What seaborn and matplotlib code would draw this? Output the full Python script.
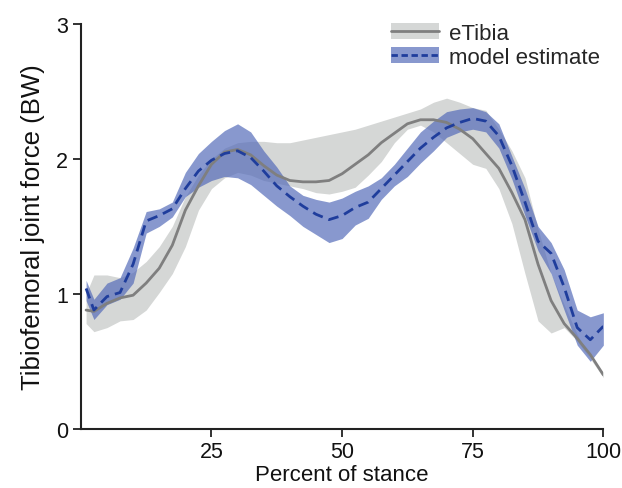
import pandas as pd
import seaborn as sns
import matplotlib
matplotlib.use('Agg')
import matplotlib.pyplot as plt
from matplotlib.patches import Patch
from matplotlib.lines import Line2D

# percent of stance
pct = [1, 2.5, 5, 7.5, 10, 12.5, 15, 17.5, 20, 22.5, 25, 27.5, 30, 32.5, 35, 37.5,
       40, 42.5, 45, 47.5, 50, 52.5, 55, 57.5, 60, 62.5, 65, 67.5, 70, 72.5, 75,
       77.5, 80, 82.5, 85, 87.5, 90, 92.5, 95, 97.5, 100]

# eTibia measured force (BW)
etibia_mean = [0.88, 0.87, 0.93, 0.97, 0.99, 1.08, 1.19, 1.36, 1.62, 1.80, 1.96, 2.05,
               2.07, 2.03, 1.95, 1.88, 1.84, 1.83, 1.83, 1.84, 1.89, 1.96, 2.03, 2.12,
               2.19, 2.26, 2.29, 2.29, 2.27, 2.22, 2.15, 2.04, 1.93, 1.75, 1.55, 1.22,
               0.95, 0.78, 0.67, 0.55, 0.40]
etibia_hi = [1.00, 1.14, 1.14, 1.12, 1.16, 1.24, 1.35, 1.50, 1.72, 1.88, 2.00, 2.08,
             2.12, 2.13, 2.13, 2.12, 2.12, 2.14, 2.16, 2.18, 2.20, 2.22, 2.25, 2.28,
             2.31, 2.34, 2.37, 2.42, 2.45, 2.42, 2.38, 2.36, 2.22, 2.06, 1.86, 1.48,
             1.15, 0.92, 0.70, 0.52, 0.42]
etibia_lo = [0.78, 0.72, 0.75, 0.80, 0.81, 0.88, 1.01, 1.15, 1.35, 1.62, 1.78, 1.86,
             1.90, 1.88, 1.84, 1.82, 1.80, 1.78, 1.75, 1.74, 1.76, 1.79, 1.88, 1.98,
             2.12, 2.22, 2.25, 2.20, 2.12, 2.04, 1.96, 1.93, 1.78, 1.52, 1.15, 0.80,
             0.71, 0.75, 0.65, 0.52, 0.38]

# model estimate (BW)
model_mean = [1.04, 0.88, 0.98, 1.01, 1.22, 1.54, 1.58, 1.63, 1.78, 1.91, 1.99, 2.04,
              2.06, 2.01, 1.91, 1.80, 1.72, 1.65, 1.59, 1.55, 1.58, 1.64, 1.68, 1.78,
              1.88, 1.98, 2.08, 2.16, 2.23, 2.27, 2.30, 2.28, 2.17, 1.95, 1.68, 1.39,
              1.30, 1.05, 0.75, 0.66, 0.76]
model_hi = [1.10, 0.96, 1.08, 1.12, 1.34, 1.61, 1.63, 1.68, 1.90, 2.04, 2.13, 2.21,
            2.26, 2.20, 2.06, 1.94, 1.80, 1.73, 1.70, 1.68, 1.71, 1.76, 1.80, 1.86,
            1.96, 2.08, 2.20, 2.28, 2.35, 2.37, 2.38, 2.35, 2.26, 2.02, 1.78, 1.50,
            1.38, 1.18, 0.88, 0.83, 0.86]
model_lo = [0.95, 0.81, 0.92, 0.96, 1.08, 1.45, 1.50, 1.57, 1.72, 1.79, 1.84, 1.87,
            1.86, 1.81, 1.73, 1.65, 1.58, 1.50, 1.44, 1.38, 1.41, 1.51, 1.56, 1.70,
            1.80, 1.87, 1.97, 2.06, 2.16, 2.20, 2.22, 2.20, 2.08, 1.85, 1.58, 1.32,
            1.15, 0.88, 0.62, 0.50, 0.62]

df = pd.DataFrame({'pct': pct, 'etibia': etibia_mean, 'model': model_mean})

sns.set_style('ticks')
plt.rcParams['font.family'] = ['Liberation Sans', 'DejaVu Sans']

gray_band = '#d5d7d6'
gray_line = '#7f7f7f'
blue_band = '#5068b8'
blue_line = '#1f3d9c'

fig = plt.figure(figsize=(6.22, 4.89), dpi=100)
ax = fig.add_axes([0.130, 0.121, 0.840, 0.828])

ax.fill_between(pct, etibia_lo, etibia_hi, color=gray_band, lw=0)
ax.fill_between(pct, model_lo, model_hi, color=blue_band, alpha=0.68, lw=0)
sns.lineplot(data=df, x='pct', y='etibia', ax=ax, color=gray_line, lw=2)
sns.lineplot(data=df, x='pct', y='model', ax=ax, color=blue_line, lw=2,
             linestyle=(0, (3.8, 2.2)))

ax.set_xlim(0, 100)
ax.set_ylim(0, 3)
ax.set_xticks([25, 50, 75, 100])
ax.set_yticks([0, 1, 2, 3])
ax.tick_params(labelsize=15.5, width=1.3, length=6, pad=3, color='#222222',
               labelcolor='#111111')
for s in ['left', 'bottom']:
    ax.spines[s].set_linewidth(1.5)
    ax.spines[s].set_color('#222222')
sns.despine(ax=ax)
ax.set_xlabel('Percent of stance', fontsize=16, labelpad=1, color='#111111')
ax.set_ylabel('Tibiofemoral joint force (BW)', fontsize=18.5, labelpad=8,
              color='#111111')

handles = [(Patch(color=gray_band, lw=0), Line2D([], [], color=gray_line, lw=2)),
           (Patch(color=blue_band, alpha=0.68, lw=0),
            Line2D([], [], color=blue_line, lw=2, linestyle=(0, (2.3, 1.3))))]
ax.legend(handles, ['eTibia', 'model estimate'], loc='upper right',
          bbox_to_anchor=(1.02, 1.035), frameon=False, fontsize=16,
          handlelength=2.2, handleheight=0.75, handletextpad=0.45,
          labelspacing=0.12, borderaxespad=0.2)

fig.savefig('out.png', dpi=100)
